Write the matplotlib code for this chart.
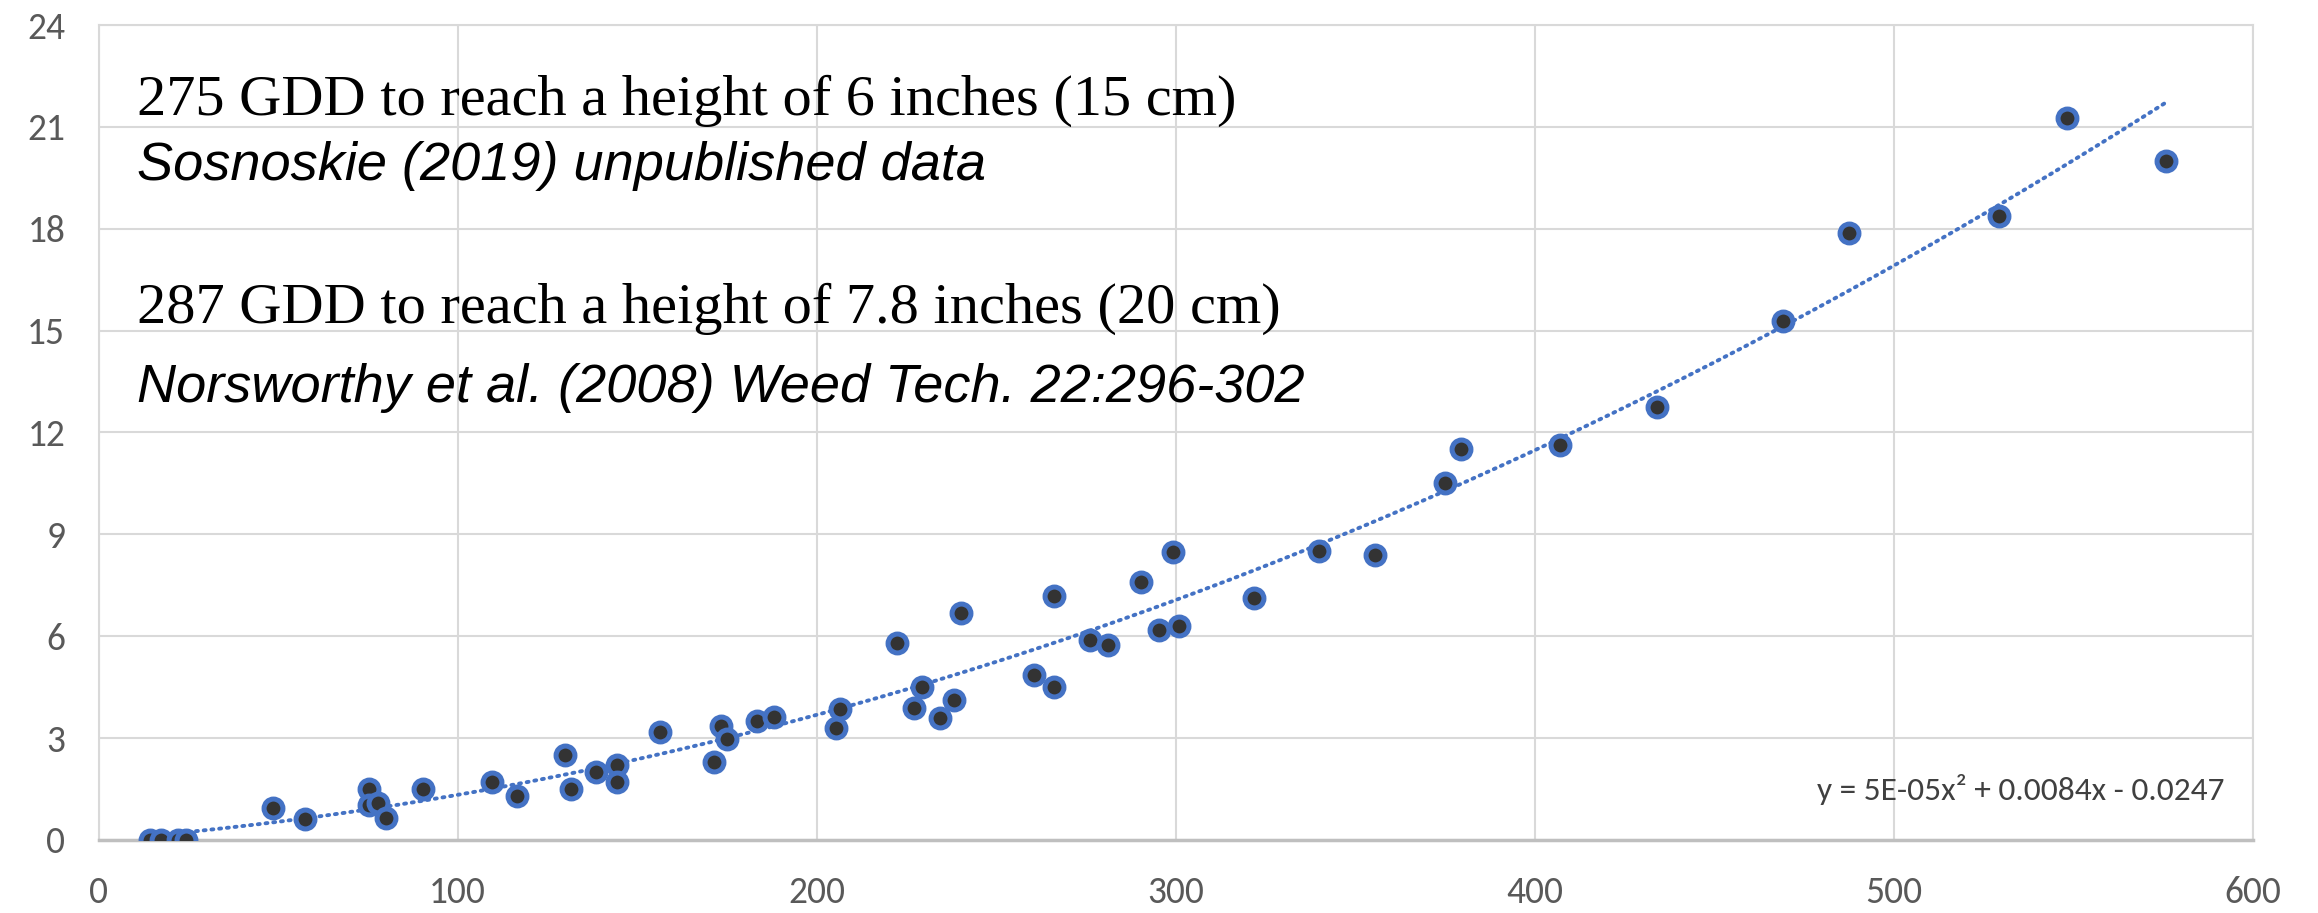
import numpy as np
import matplotlib
matplotlib.use("Agg")
import matplotlib.pyplot as plt

# growing degree days vs plant height (inches)
gdd = [14.2, 17.5, 22.0, 24.5, 48.7, 57.4, 75.2, 75.2, 77.7, 80.0,
       90.5, 109.7, 116.5, 130.0, 131.6, 138.5, 144.3, 144.5, 156.4, 171.5,
       173.3, 175.0, 183.3, 188.1, 205.3, 206.5, 222.4, 227.0, 229.4, 234.3,
       238.2, 240.2, 260.6, 266.0, 266.2, 276.0, 281.2, 290.4, 295.2, 299.2,
       300.8, 321.9, 339.8, 355.5, 375.1, 379.4, 406.9, 433.9, 469.1, 487.4,
       529.3, 548.3, 575.8]
height = [0, 0, 0, 0, 0.94, 0.61, 1.50, 1.04, 1.09, 0.65,
          1.50, 1.70, 1.30, 2.49, 1.49, 2.00, 2.21, 1.70, 3.19, 2.30,
          3.37, 2.98, 3.49, 3.63, 3.29, 3.87, 5.80, 3.90, 4.50, 3.60,
          4.12, 6.69, 4.87, 7.18, 4.49, 5.89, 5.75, 7.61, 6.19, 8.49,
          6.30, 7.13, 8.50, 8.40, 10.52, 11.50, 11.63, 12.76, 15.27, 17.88,
          18.37, 21.26, 20.00]

x_ticks = [0, 100, 200, 300, 400, 500, 600]
y_ticks = [0, 3, 6, 9, 12, 15, 18, 21, 24]

notes = ["275 GDD to reach a height of 6 inches (15 cm)",
         "Sosnoskie (2019) unpublished data",
         "287 GDD to reach a height of 7.8 inches (20 cm)",
         "Norsworthy et al. (2008) Weed Tech. 22:296-302"]
equation = "y = 5E-05x² + 0.0084x - 0.0247"

blue = "#4472C4"
grid_col = "#D9D9D9"
narrow = ["Carlito", "Roboto Condensed", "Liberation Sans", "DejaVu Sans"]
serif = ["Liberation Serif", "DejaVu Serif"]
sans = ["Liberation Sans", "DejaVu Sans"]

fig = plt.figure(figsize=(23.18, 9.13), dpi=100)
ax = fig.add_axes([0.0425, 0.080, 0.9295, 0.8926])

# polynomial trendline (order 2) fitted to the data
coef = np.polyfit(gdd, height, 2)
xs = np.linspace(min(gdd), max(gdd), 300)
ax.plot(xs, np.polyval(coef, xs), color=blue, lw=2.8, ls=(0, (0.5, 1.5)),
        dash_capstyle="round", zorder=2)

ax.scatter(gdd, height, s=185, facecolor="#333333", edgecolor=blue,
           linewidth=3.6, zorder=3)

ax.set_xlim(0, 600)
ax.set_ylim(0, 24)
ax.set_xticks(x_ticks)
ax.set_yticks(y_ticks)
ax.grid(True, color=grid_col, lw=1.5, zorder=0)
ax.set_axisbelow(True)
for s in ax.spines.values():
    s.set_color(grid_col)
    s.set_linewidth(1.5)
ax.spines["bottom"].set_color("#BFBFBF")
ax.spines["bottom"].set_linewidth(2.5)
ax.tick_params(length=0, labelsize=27, labelcolor="#595959")
ax.tick_params(axis="x", pad=26)
ax.tick_params(axis="y", pad=24)
for lab in ax.get_xticklabels() + ax.get_yticklabels():
    lab.set_family(narrow)

ax.text(0.0179, 0.8896, notes[0], transform=ax.transAxes, fontsize=42,
        family=serif, va="baseline")
ax.text(0.0179, 0.8098, notes[1], transform=ax.transAxes, fontsize=39,
        family=sans, style="italic", va="baseline")
ax.text(0.0179, 0.6344, notes[2], transform=ax.transAxes, fontsize=42,
        family=serif, va="baseline")
ax.text(0.0179, 0.5374, notes[3], transform=ax.transAxes, fontsize=39,
        family=sans, style="italic", va="baseline")

ax.text(0.9866, 0.049, equation, transform=ax.transAxes, fontsize=24,
        family=narrow, color="#404040", ha="right", va="baseline")

fig.savefig("out.png", dpi=100)
